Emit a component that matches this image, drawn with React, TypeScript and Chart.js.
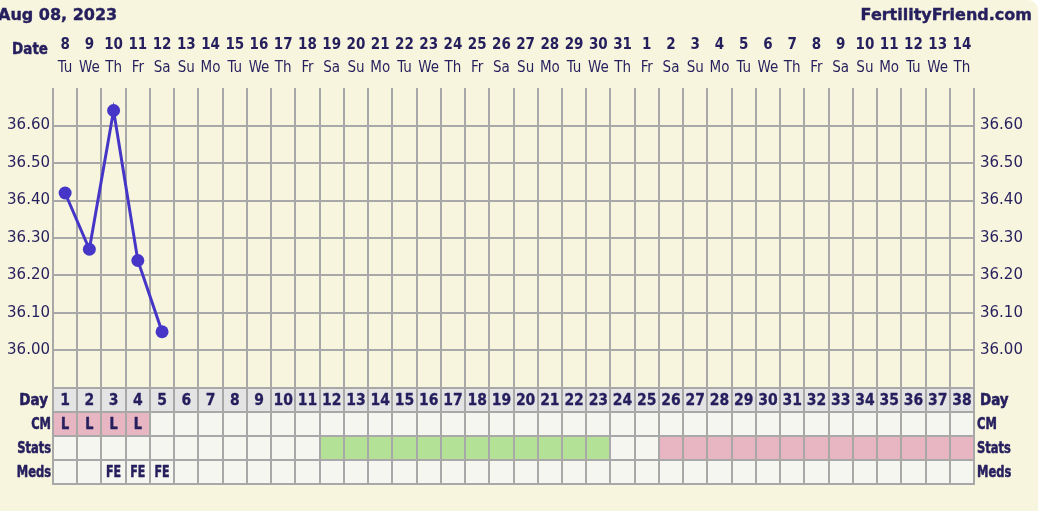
import React, { useEffect, useRef } from 'react';
import { Chart, registerables } from 'chart.js';

Chart.register(...registerables);

// ---------- data ----------
const chartTitle = 'Aug 08, 2023';
const siteName = 'FertilityFriend.com';

const dayNumbers = ['1', '2', '3', '4', '5', '6', '7', '8', '9', '10', '11', '12', '13', '14', '15', '16', '17', '18', '19', '20', '21', '22', '23', '24', '25', '26', '27', '28', '29', '30', '31', '32', '33', '34', '35', '36', '37', '38'];

const dateLabels = ['8', '9', '10', '11', '12', '13', '14', '15', '16', '17', '18', '19', '20', '21', '22', '23', '24', '25', '26', '27', '28', '29', '30', '31', '1', '2', '3', '4', '5', '6', '7', '8', '9', '10', '11', '12', '13', '14'];

const weekdayLabels = ['Tu', 'We', 'Th', 'Fr', 'Sa', 'Su', 'Mo', 'Tu', 'We', 'Th', 'Fr', 'Sa', 'Su', 'Mo', 'Tu', 'We', 'Th', 'Fr', 'Sa', 'Su', 'Mo', 'Tu', 'We', 'Th', 'Fr', 'Sa', 'Su', 'Mo', 'Tu', 'We', 'Th', 'Fr', 'Sa', 'Su', 'Mo', 'Tu', 'We', 'Th'];

const temperatures: (number | null)[] = [36.42, 36.27, 36.64, 36.24, 36.05, null, null, null, null, null, null, null, null, null, null, null, null, null, null, null, null, null, null, null, null, null, null, null, null, null, null, null, null, null, null, null, null, null];

const tempTicks = [35.90, 35.95, 36.00, 36.05, 36.10, 36.15, 36.20, 36.25, 36.30, 36.35, 36.40, 36.45, 36.50, 36.55, 36.60, 36.65, 36.70];
const tempLabelled = [36.00, 36.10, 36.20, 36.30, 36.40, 36.50, 36.60];
const tempMin = 35.90;
const tempMax = 36.70;

const cmRow = ['L', 'L', 'L', 'L', '', '', '', '', '', '', '', '', '', '', '', '', '', '', '', '', '', '', '', '', '', '', '', '', '', '', '', '', '', '', '', '', '', ''];

// '' = none, 'G' = green, 'P' = pink
const statsRow = ['', '', '', '', '', '', '', '', '', '', '', 'G', 'G', 'G', 'G', 'G', 'G', 'G', 'G', 'G', 'G', 'G', 'G', '', '', 'P', 'P', 'P', 'P', 'P', 'P', 'P', 'P', 'P', 'P', 'P', 'P', 'P'];

const medsRow = ['', '', 'FE', 'FE', 'FE', '', '', '', '', '', '', '', '', '', '', '', '', '', '', '', '', '', '', '', '', '', '', '', '', '', '', '', '', '', '', '', '', ''];

const rowNames = ['Day', 'CM', 'Stats', 'Meds'];

// ---------- styles ----------
const BG = '#f7f5dd';
const TEXT = '#261f5e';
const LINE = '#4636c8';
const GRID = '#a8a8a8';
const CELL = '#f6f6f1';
const DAYCELL = '#e4e4e4';
const PINK = '#e8b5c2';
const GREEN = '#b3e297';
const ROW_H = 24;

const COND = '"DejaVu Sans Condensed", "DejaVu Sans", sans-serif';
const VERD = '"DejaVu Sans", Verdana, sans-serif';

function drawSquished(ctx: CanvasRenderingContext2D, text: string, x: number, y: number, font: string, align: CanvasTextAlign, sx: number, heavy = 0.5) {
  ctx.save();
  ctx.font = font;
  ctx.textAlign = align;
  ctx.textBaseline = 'middle';
  ctx.translate(x, y);
  ctx.scale(sx, 1);
  ctx.fillStyle = TEXT;
  ctx.fillText(text, 0, 0);
  if (heavy > 0) {
    ctx.strokeStyle = TEXT;
    ctx.lineWidth = heavy;
    ctx.lineJoin = 'round';
    ctx.strokeText(text, 0, 0);
  }
  ctx.restore();
}

const decorPlugin = {
  id: 'decor',
  afterDraw(chart: any) {
    const ctx = chart.ctx as CanvasRenderingContext2D;
    const area = chart.chartArea;
    const xs = chart.scales.x;
    const n = dayNumbers.length;
    const colW = (area.right - area.left) / n;
    ctx.save();

    // header texts
    ctx.fillStyle = TEXT;
    ctx.strokeStyle = TEXT;
    ctx.lineWidth = 0.4;
    ctx.textBaseline = 'alphabetic';
    ctx.font = `bold 16px ${VERD}`;
    ctx.textAlign = 'left';
    ctx.fillText(chartTitle, -2, 20);
    ctx.strokeText(chartTitle, -2, 20);
    ctx.textAlign = 'right';
    ctx.fillText(siteName, 1032, 20);
    ctx.strokeText(siteName, 1032, 20);
    drawSquished(ctx, 'Date', 48, 50, `bold 15px ${COND}`, 'right', 1, 0.4);

    // table
    const top = area.bottom;
    for (let r = 0; r < 4; r++) {
      const y0 = top + r * ROW_H;
      for (let i = 0; i < n; i++) {
        const cx = xs.getPixelForValue(i);
        const x0 = cx - colW / 2;
        let fill = CELL;
        if (r === 0) fill = DAYCELL;
        if (r === 1 && cmRow[i]) fill = PINK;
        if (r === 2 && statsRow[i] === 'G') fill = GREEN;
        if (r === 2 && statsRow[i] === 'P') fill = PINK;
        ctx.fillStyle = fill;
        ctx.fillRect(x0, y0, colW, ROW_H);
        const yc = y0 + ROW_H / 2 + 1;
        if (r === 0) drawSquished(ctx, dayNumbers[i], cx, yc, `bold 15.5px ${COND}`, 'center', 1, 0.3);
        if (r === 1 && cmRow[i]) drawSquished(ctx, cmRow[i], cx, yc, `bold 15px ${COND}`, 'center', 0.95);
        if (r === 3 && medsRow[i]) drawSquished(ctx, medsRow[i], cx, yc, `bold 15px ${COND}`, 'center', 0.82);
      }
    }
    ctx.strokeStyle = GRID;
    ctx.lineWidth = 2;
    ctx.beginPath();
    for (let i = 0; i <= n; i++) {
      const x = Math.round(area.left + i * colW);
      ctx.moveTo(x, top);
      ctx.lineTo(x, top + 4 * ROW_H);
    }
    for (let r = 0; r <= 4; r++) {
      const y = Math.round(top + r * ROW_H);
      ctx.moveTo(area.left - 1, y);
      ctx.lineTo(area.right + 1, y);
    }
    ctx.stroke();

    // row labels
    rowNames.forEach((name, r) => {
      const yc = top + r * ROW_H + ROW_H / 2 + 1;
      const font = `bold 15px ${COND}`;
      const sx = r === 0 ? 1 : 0.85;
      drawSquished(ctx, name, r === 0 ? 48 : 51, yc, font, 'right', sx, 0.5);
      drawSquished(ctx, name, r === 0 ? 980 : 977, yc, font, 'left', sx, 0.5);
    });
    ctx.restore();
  },
};

export default function App() {
  const ref = useRef<HTMLCanvasElement | null>(null);

  useEffect(() => {
    document.body.style.margin = '0';
    const canvas = ref.current;
    if (!canvas) return;
    const tickFilter = (v: number) => tempLabelled.some((t) => Math.abs(t - v) < 1e-6);
    const chart = new Chart(canvas, {
      type: 'line',
      data: {
        labels: dayNumbers,
        datasets: [
          {
            data: temperatures,
            borderColor: LINE,
            backgroundColor: LINE,
            pointBackgroundColor: LINE,
            pointBorderWidth: 0,
            pointRadius: 6.5,
            borderWidth: 3,
            tension: 0,
            xAxisID: 'x',
            yAxisID: 'y',
          },
        ],
      },
      options: {
        animation: false,
        responsive: false,
        devicePixelRatio: 1,
        layout: { padding: { top: 28, bottom: 511 - 388, left: 0, right: 0 } },
        plugins: { legend: { display: false }, tooltip: { enabled: false } },
        scales: {
          x: {
            type: 'category',
            position: 'top',
            labels: weekdayLabels,
            offset: true,
            weight: 1,
            grid: { offset: true, color: GRID, lineWidth: 2, drawTicks: false },
            border: { display: false },
            ticks: {
              autoSkip: false,
              maxRotation: 0,
              minRotation: 0,
              padding: 11,
              color: TEXT,
              font: { family: COND, size: 15 },
            },
            afterFit: (s: any) => { s.height = 32; },
          },
          x2: {
            type: 'category',
            position: 'top',
            labels: dateLabels,
            offset: true,
            weight: 2,
            grid: { display: false, drawTicks: false },
            border: { display: false },
            ticks: {
              autoSkip: false,
              maxRotation: 0,
              minRotation: 0,
              padding: 2,
              color: TEXT,
              font: { family: COND, size: 15, weight: 'bold' },
            },
            afterFit: (s: any) => { s.height = 28; },
          },
          y: {
            type: 'linear',
            position: 'left',
            min: tempMin,
            max: tempMax,
            afterBuildTicks: (s: any) => { s.ticks = tempTicks.map((v) => ({ value: v })); },
            grid: {
              color: (c: any) => (c.tick && Math.abs(c.tick.value - tempMax) < 1e-6 ? 'rgba(0,0,0,0)' : GRID),
              lineWidth: 2,
              drawTicks: false,
            },
            border: { display: false },
            ticks: {
              padding: 3,
              color: TEXT,
              font: { family: VERD, size: 15 },
              callback: (v: any) => (tickFilter(Number(v)) ? Number(v).toFixed(2) : ''),
            },
            afterFit: (s: any) => { s.width = 53; },
          },
          y2: {
            type: 'linear',
            position: 'right',
            min: tempMin,
            max: tempMax,
            afterBuildTicks: (s: any) => { s.ticks = tempTicks.map((v) => ({ value: v })); },
            grid: { display: false, drawTicks: false },
            border: { display: false },
            ticks: {
              padding: 6,
              color: TEXT,
              font: { family: VERD, size: 15 },
              callback: (v: any) => (tickFilter(Number(v)) ? Number(v).toFixed(2) : ''),
            },
            afterFit: (s: any) => { s.width = 64; },
          },
        },
      },
      plugins: [decorPlugin],
    } as any);
    return () => chart.destroy();
  }, []);

  return (
    <div style={{ width: 1038, height: 511, background: BG, borderTopRightRadius: 10, overflow: 'hidden' }}>
      <canvas ref={ref} width={1038} height={511} style={{ display: 'block' }} />
    </div>
  );
}
